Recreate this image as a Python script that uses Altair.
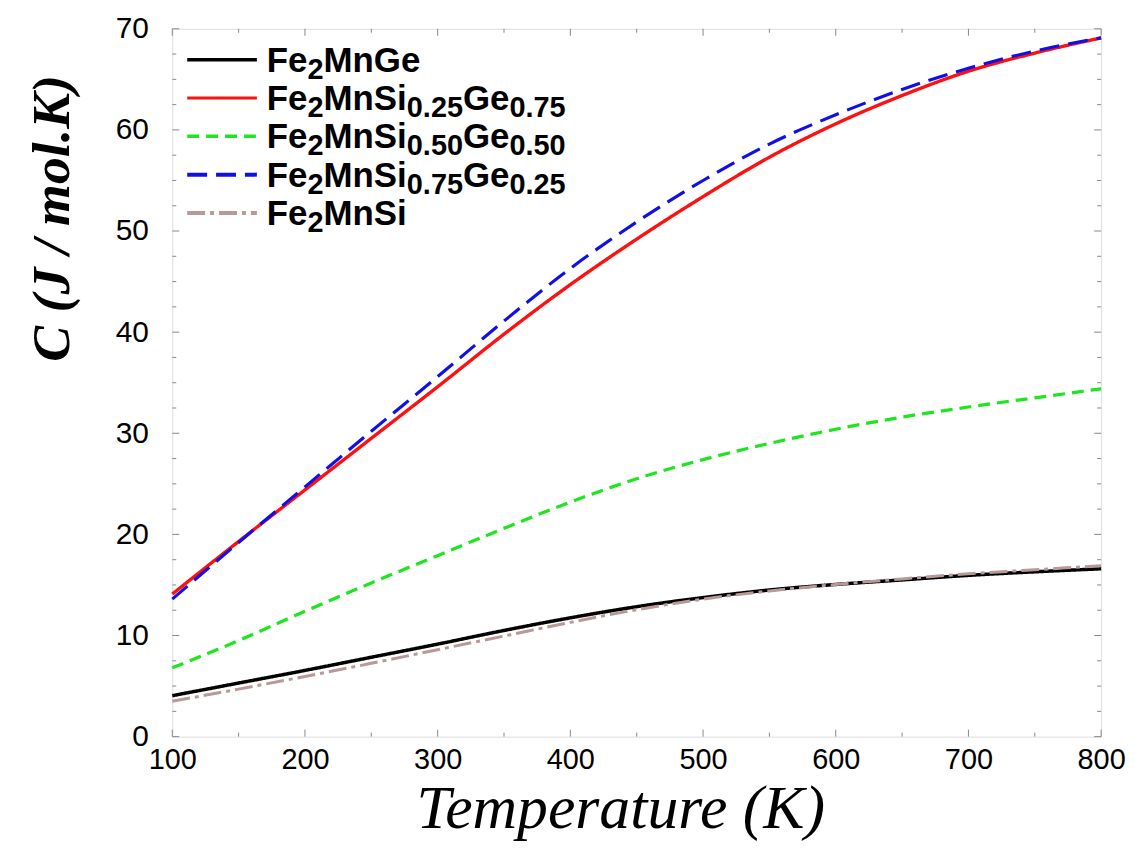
import altair as alt
import pandas as pd

temperature = [100, 150, 200, 250, 300, 350, 400, 450, 500, 550, 600, 650, 700, 750, 800]

c_fe2mnge = [4.05, 5.3, 6.55, 7.85, 9.15, 10.5, 11.75, 12.85, 13.75, 14.5, 15.05, 15.5, 15.95, 16.3, 16.6]
c_si025 = [14.1, 19.3, 24.4, 29.5, 34.6, 39.8, 44.7, 49.2, 53.4, 57.3, 60.6, 63.4, 65.8, 67.6, 69.1]
c_si050 = [6.8, 9.5, 12.4, 15.2, 17.9, 20.6, 23.2, 25.5, 27.4, 29.0, 30.4, 31.6, 32.6, 33.5, 34.4]
c_si075 = [13.6, 19.2, 24.7, 30.2, 35.6, 41.1, 46.3, 50.9, 55.0, 58.6, 61.5, 64.0, 66.1, 67.8, 69.1]
c_fe2mnsi = [3.5, 4.7, 5.95, 7.25, 8.6, 9.95, 11.3, 12.55, 13.6, 14.4, 15.05, 15.6, 16.1, 16.5, 16.9]

series_names = [
    "Fe2MnGe",
    "Fe2MnSi0.25Ge0.75",
    "Fe2MnSi0.50Ge0.50",
    "Fe2MnSi0.75Ge0.25",
    "Fe2MnSi",
]
# legend label pieces: (text, is_subscript)
series_label_parts = [
    [("Fe", 0), ("2", 1), ("MnGe", 0)],
    [("Fe", 0), ("2", 1), ("MnSi", 0), ("0.25", 1), ("Ge", 0), ("0.75", 1)],
    [("Fe", 0), ("2", 1), ("MnSi", 0), ("0.50", 1), ("Ge", 0), ("0.50", 1)],
    [("Fe", 0), ("2", 1), ("MnSi", 0), ("0.75", 1), ("Ge", 0), ("0.25", 1)],
    [("Fe", 0), ("2", 1), ("MnSi", 0)],
]
series_values = [c_fe2mnge, c_si025, c_si050, c_si075, c_fe2mnsi]
series_colors = ["#000000", "#ff1010", "#1ee61e", "#1010e6", "#b89898"]
series_dashes = [[1, 0], [1, 0], [12, 7], [20, 9], [18, 5, 4, 5]]
series_widths = [3.5, 3, 3.5, 4, 4]

x_major = [100, 200, 300, 400, 500, 600, 700, 800]
x_minor = [150, 250, 350, 450, 550, 650, 750]
y_major = [0, 10, 20, 30, 40, 50, 60, 70]
y_minor = [2.5, 5, 7.5, 12.5, 15, 17.5, 22.5, 25, 27.5, 32.5, 35, 37.5, 42.5, 45, 47.5,
           52.5, 55, 57.5, 62.5, 65, 67.5]

rows = []
for name, vals in zip(series_names, series_values):
    for t, v in zip(temperature, vals):
        rows.append({"T": t, "C": v, "series": name})
df = pd.DataFrame(rows)

W, H = 933, 711

xscale = alt.Scale(domain=[100, 800], nice=False, zero=False)
yscale = alt.Scale(domain=[0, 70], nice=False, zero=False)

x_axis = alt.Axis(
    values=x_major, ticks=False, domain=False, grid=False,
    labelFont="Liberation Sans", labelFontSize=29, labelColor="#000",
    labelPadding=9, labelFlush=False,
    title="Temperature (K)", titleFont="Liberation Serif", titleFontStyle="italic",
    titleFontWeight="normal", titleFontSize=62, titleColor="#000", titlePadding=4,
    titleX=450,
)
y_axis = alt.Axis(
    values=y_major, ticks=False, domain=False, grid=False,
    labelFont="Liberation Sans", labelFontSize=30, labelColor="#000",
    labelPadding=24,
    title="C (J / mol.K)", titleFont="Liberation Serif", titleFontStyle="italic",
    titleFontWeight="bold", titleFontSize=54, titleColor="#000",
    titleAngle=270, titleX=-120, titleY=190, titleAlign="center", titleBaseline="middle",
)

lines = alt.Chart(df).mark_line(interpolate="monotone").encode(
    x=alt.X("T:Q", scale=xscale, axis=x_axis),
    y=alt.Y("C:Q", scale=yscale, axis=y_axis),
    color=alt.Color("series:N", scale=alt.Scale(domain=series_names, range=series_colors),
                    legend=None),
    strokeDash=alt.StrokeDash("series:N", scale=alt.Scale(domain=series_names, range=series_dashes),
                              legend=None),
    strokeWidth=alt.StrokeWidth("series:N", scale=alt.Scale(domain=series_names, range=series_widths),
                                legend=None),
    order=alt.Order("T:Q"),
)

xmaj = pd.DataFrame({"t": x_major})
xmin = pd.DataFrame({"t": x_minor})
ymaj = pd.DataFrame({"v": y_major})
ymin = pd.DataFrame({"v": y_minor})

tick_color = "#888888"

def xticks(d, length):
    bot = alt.Chart(d).mark_rule(color=tick_color, strokeWidth=1).encode(
        x=alt.X("t:Q", scale=xscale), y=alt.value(H), y2=alt.value(H - length))
    top = alt.Chart(d).mark_rule(color=tick_color, strokeWidth=1).encode(
        x=alt.X("t:Q", scale=xscale), y=alt.value(0), y2=alt.value(length))
    return bot + top

def yticks(d, length):
    left = alt.Chart(d).mark_rule(color=tick_color, strokeWidth=1).encode(
        y=alt.Y("v:Q", scale=yscale), x=alt.value(0), x2=alt.value(length))
    right = alt.Chart(d).mark_rule(color=tick_color, strokeWidth=1).encode(
        y=alt.Y("v:Q", scale=yscale), x=alt.value(W), x2=alt.value(W - length))
    return left + right

# ---- hand-built legend (so that subscripts can be drawn as real subscripts) ----
MAIN_SIZE, SUB_SIZE, SUB_DROP = 35, 29, 7
# Arial/Liberation Sans Bold advance widths (per 1000 em)
adv = {"F": 611, "e": 556, "M": 833, "n": 611, "S": 667, "i": 278, "G": 778, ".": 278}
for dgt in "0123456789":
    adv[dgt] = 556

def text_width(s, size):
    return sum(adv.get(ch, 556) for ch in s) * size / 1000.0

LEG_X0, LEG_X1, LEG_TEXT_X = 15, 85, 95
LEG_ROW0, LEG_STEP = 31, 38.5

legend_layers = []
for i, (parts, col, dash, sw) in enumerate(zip(series_label_parts, series_colors, series_dashes, series_widths)):
    cy = LEG_ROW0 + i * LEG_STEP
    sym_df = pd.DataFrame({"series": [series_names[i]]})
    legend_layers.append(
        alt.Chart(sym_df).mark_rule(color=col, strokeDash=dash, strokeWidth=sw).encode(
            x=alt.value(LEG_X0), x2=alt.value(LEG_X1), y=alt.value(cy))
    )
    xpos = LEG_TEXT_X
    base = cy + 12
    for txt, sub in parts:
        size = SUB_SIZE if sub else MAIN_SIZE
        seg_df = pd.DataFrame({"label": [txt]})
        legend_layers.append(
            alt.Chart(seg_df).mark_text(
                font="Liberation Sans", fontWeight="bold", fontSize=size, color="#000",
                align="left", baseline="alphabetic",
            ).encode(
                text="label:N",
                x=alt.value(xpos), y=alt.value(base + (SUB_DROP if sub else 0)),
            )
        )
        xpos += text_width(txt, size)

chart = alt.layer(
    xticks(xmaj, 7), xticks(xmin, 4), yticks(ymaj, 7), yticks(ymin, 4), lines, *legend_layers
).properties(
    width=W, height=H,
    autosize=alt.AutoSizeParams(type="none"),
    padding={"left": 165, "top": 19, "right": 30, "bottom": 115},
).configure_view(
    stroke="#999999", strokeWidth=1
).configure(background="white")

chart.save("out.html", embed_options={"renderer": "svg", "actions": False})
